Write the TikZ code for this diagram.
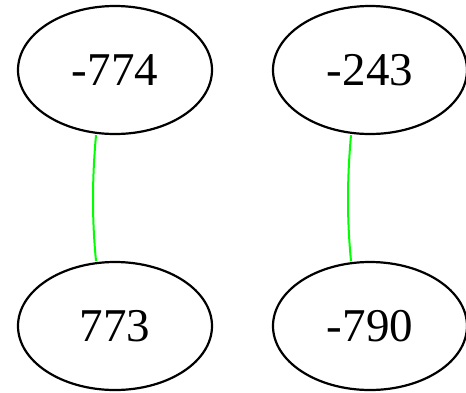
\documentclass[tikz,border=0pt]{standalone}
\usepackage{fontspec}
\setmainfont{Liberation Serif}
\usetikzlibrary{shapes.geometric}
\begin{document}
\begin{tikzpicture}[x=1pt,y=-1pt,
  vnode/.style={draw=black, line width=2.2pt, ellipse, minimum width=194pt, minimum height=128pt, inner sep=0pt, font=\fontsize{47}{50}\selectfont},
  link/.style={draw=green, line width=2pt}]
\useasboundingbox (0,0) rectangle (466,392);
\node[vnode] (a) at (115,70) {-774};
\node[vnode] (b) at (115,326) {773};
\node[vnode] (c) at (370,70) {-243};
\node[vnode] (d) at (370,326) {-790};
\path (a.south) ++(-19,0) coordinate (a1);
\path (b.north) ++(-19,0) coordinate (b1);
\path (c.south) ++(-19,0) coordinate (c1);
\path (d.north) ++(-19,0) coordinate (d1);
\draw[link] (a1) .. controls (92,180) and (92,220) .. (b1);
\draw[link] (c1) .. controls (347,180) and (347,220) .. (d1);
\end{tikzpicture}
\end{document}
